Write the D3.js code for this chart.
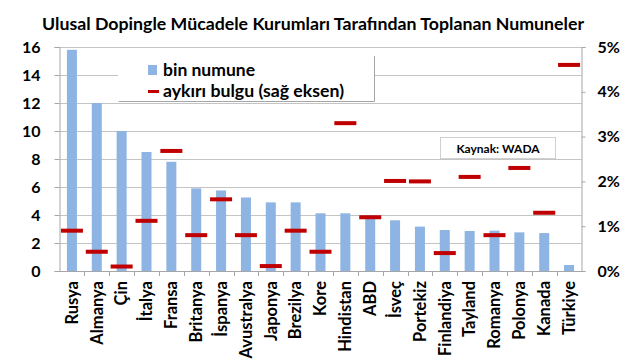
<!DOCTYPE html>
<html><head><meta charset="utf-8">
<script src="https://cdn.jsdelivr.net/npm/d3@7/dist/d3.min.js"></script>
<style>body{margin:0;background:#fff}svg{display:block}text{font-family:Lato,"Open Sans",sans-serif;font-weight:bold;fill:#000}</style>
</head><body><svg id="c" width="640" height="360"></svg>
<script>
const categories = ["Rusya","Almanya","Çin","İtalya","Fransa","Britanya","İspanya","Avustralya","Japonya","Brezilya","Kore","Hindistan","ABD","İsveç","Portekiz","Finlandiya","Tayland","Romanya","Polonya","Kanada","Türkiye"];
const samples = [15.8,12.0,10.0,8.5,7.8,5.9,5.75,5.25,4.9,4.9,4.12,4.12,4.0,3.62,3.17,2.93,2.86,2.88,2.76,2.71,0.43];
const adverse = [0.009,0.0043,0.001,0.0112,0.0268,0.008,0.016,0.008,0.0011,0.009,0.0043,0.033,0.012,0.0201,0.02,0.004,0.021,0.008,0.023,0.013,0.046];
const leftTicks = [0,2,4,6,8,10,12,14,16];
const rightTicks = [0,0.01,0.02,0.03,0.04,0.05];
const title = "Ulusal Dopingle Mücadele Kurumları Tarafından Toplanan Numuneler";
const legendLabels = ["bin numune","aykırı bulgu (sağ eksen)"];
const source = "Kaynak: WADA";

const svg = d3.select("#c");
const L = 59.5, R = 581.5, T = 47, B = 271;
const x = d3.scaleBand(categories, [L, R]);
const yL = d3.scaleLinear([0,16],[B,T]);
const yR = d3.scaleLinear([0,0.05],[B,T]);
const blue = "#8db4e2", red = "#c00000", grid = "#c4c4c4";

svg.append("text").attr("x",42).attr("y",30)
  .attr("textLength",542).attr("lengthAdjust","spacingAndGlyphs")
  .style("font-size","17.5px").text(title);

// gridlines
svg.append("g").selectAll("line").data(leftTicks.filter(d=>d>0)).join("line")
  .attr("x1",L).attr("x2",R).attr("y1",d=>Math.round(yL(d))+0.5).attr("y2",d=>Math.round(yL(d))+0.5)
  .attr("stroke",grid);

// bars
const bw = 10;
svg.append("g").selectAll("rect").data(categories).join("rect")
  .attr("x",(d,i)=>x(d)+x.bandwidth()/2-bw/2)
  .attr("width",bw)
  .attr("y",(d,i)=>yL(samples[i]))
  .attr("height",(d,i)=>B-yL(samples[i]))
  .attr("fill",blue);

// markers
const mw = 22;
svg.append("g").selectAll("rect").data(categories).join("rect")
  .attr("x",d=>x(d)+x.bandwidth()/2-mw/2)
  .attr("width",mw)
  .attr("y",(d,i)=>yR(adverse[i])-2)
  .attr("height",4)
  .attr("fill",red);

// left axis
const ax = svg.append("g").attr("transform",`translate(${L},0)`)
  .call(d3.axisLeft(yL).tickValues(leftTicks).tickSize(5).tickPadding(14));
ax.selectAll("text").style("font-size","16px");
ax.selectAll("line,path").attr("stroke","#a6a6a6");

// right axis
const ar = svg.append("g").attr("transform",`translate(${R},0)`)
  .call(d3.axisRight(yR).tickValues(rightTicks).tickFormat(d3.format(".0%")).tickSize(4).tickPadding(12));
ar.selectAll("text").style("font-size","16px");
ar.selectAll("line,path").attr("stroke","#a6a6a6");

// bottom axis
const ab = svg.append("g").attr("transform",`translate(0,${B})`)
  .call(d3.axisBottom(x).tickSize(0).tickPadding(0));
ab.select("path").attr("stroke","#a6a6a6");
ab.selectAll("text").attr("transform","rotate(-90)").attr("text-anchor","end")
  .attr("x",-10).attr("y",0).attr("dy","0.35em").style("font-size","16.5px");
svg.append("g").selectAll("line").data(categories.slice(1)).join("line")
  .attr("x1",d=>Math.round(x(d))+0.5).attr("x2",d=>Math.round(x(d))+0.5)
  .attr("y1",B).attr("y2",B+5).attr("stroke","#a6a6a6");

// legend
const lg = svg.append("g");
lg.append("rect").attr("x",118).attr("y",56).attr("width",256).attr("height",46).attr("fill","#fff");
lg.append("path").attr("d","M118.5,101.5H374.5V56").attr("fill","none").attr("stroke","#a6a6a6");
lg.append("rect").attr("x",148).attr("y",65).attr("width",9).attr("height",10).attr("fill",blue);
lg.append("rect").attr("x",148).attr("y",90).attr("width",11).attr("height",3).attr("fill",red);
lg.append("text").attr("x",163).attr("y",76).attr("textLength",92).attr("lengthAdjust","spacingAndGlyphs")
  .style("font-size","17px").text(legendLabels[0]);
lg.append("text").attr("x",163).attr("y",97).attr("textLength",181).attr("lengthAdjust","spacingAndGlyphs")
  .style("font-size","17px").text(legendLabels[1]);

// source box
svg.append("rect").attr("x",440.5).attr("y",137.5).attr("width",115).attr("height",21)
  .attr("fill","#fff").attr("stroke","#d0d0d0");
svg.append("text").attr("x",498).attr("y",152.5).attr("text-anchor","middle")
  .style("font-size","12px").text(source);
</script></body></html>
